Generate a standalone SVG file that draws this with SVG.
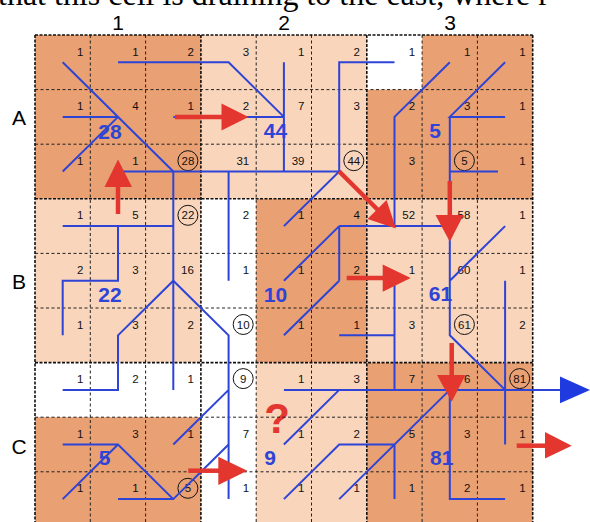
<svg xmlns="http://www.w3.org/2000/svg" width="590" height="522" viewBox="0 0 590 522">
<style>
.dk{fill:#E9A072}
.lt{fill:#F9D5BC}
.wh{fill:#FFFFFF}
.cl{stroke:#222;stroke-width:1;stroke-dasharray:3 2.5;fill:none}
.bl{stroke:#111;stroke-width:1.6;stroke-dasharray:3 1.5;fill:none}
.n{font-family:"Liberation Sans",Arial,sans-serif;font-size:11.5px;fill:#111;text-anchor:end}
.nc{font-family:"Liberation Sans",Arial,sans-serif;font-size:11.5px;fill:#111;text-anchor:middle}
.ci{fill:none;stroke:#111;stroke-width:1}
.s{font-family:"Liberation Sans",Arial,sans-serif;font-size:21px;font-weight:bold;fill:#2E44D6;text-anchor:middle}
.lab{font-family:"Liberation Sans",Arial,sans-serif;font-size:21px;fill:#000;text-anchor:middle}
.b{stroke:#2E44D6;stroke-width:2;fill:none;stroke-linejoin:miter}
.r{stroke:#E2362F;stroke-width:4.5;fill:none}
.rh{fill:#E2362F}
.bh{fill:#1F3BE0}
</style>
<rect width="590" height="522" fill="#FFFFFF"/>
<text x="-2" y="4.5" font-family="Liberation Serif,serif" font-size="32" fill="#000">that this cell is draining to the east, where r</text>
<g id="headers">
<text class="lab" x="118" y="30">1</text>
<text class="lab" x="284" y="30">2</text>
<text class="lab" x="450" y="30">3</text>
<text class="lab" x="19" y="125">A</text>
<text class="lab" x="19" y="289">B</text>
<text class="lab" x="19" y="454">C</text>
</g>
<g id="block-A1">
<rect class="dk" x="35" y="35" width="165.9" height="163.8"/>
<text class="n" x="83.3" y="55.5">1</text><text class="n" x="138.6" y="55.5">1</text><text class="n" x="193.9" y="55.5">2</text>
<text class="n" x="83.3" y="110.1">1</text><text class="n" x="138.6" y="110.1">4</text><text class="n" x="193.9" y="110.1">1</text>
<text class="n" x="83.3" y="164.7">1</text><text class="n" x="138.6" y="164.7">1</text>
<circle class="ci" cx="187.9" cy="160.7" r="10"/><text class="nc" x="187.9" y="164.7">28</text>
<text class="s" x="110" y="138.5">28</text>
</g>
<g id="block-A2">
<rect class="lt" x="200.9" y="35" width="165.9" height="163.8"/>
<text class="n" x="249.2" y="55.5">3</text><text class="n" x="304.5" y="55.5">1</text><text class="n" x="359.8" y="55.5">2</text>
<text class="n" x="249.2" y="110.1">2</text><text class="n" x="304.5" y="110.1">7</text><text class="n" x="359.8" y="110.1">3</text>
<text class="n" x="249.2" y="164.7">31</text><text class="n" x="304.5" y="164.7">39</text>
<circle class="ci" cx="353.8" cy="160.7" r="10"/><text class="nc" x="353.8" y="164.7">44</text>
<text class="s" x="275.5" y="138">44</text>
</g>
<g id="block-A3">
<rect class="dk" x="366.8" y="35" width="165.9" height="163.8"/>
<rect class="wh" x="366.8" y="35" width="55.3" height="54.6"/>
<text class="n" x="415.1" y="55.5">1</text><text class="n" x="470.4" y="55.5">1</text><text class="n" x="525.7" y="55.5">1</text>
<text class="n" x="415.1" y="110.1">2</text><text class="n" x="470.4" y="110.1">3</text><text class="n" x="525.7" y="110.1">1</text>
<text class="n" x="415.1" y="164.7">3</text>
<circle class="ci" cx="464.4" cy="160.7" r="10"/><text class="nc" x="464.4" y="164.7">5</text>
<text class="n" x="525.7" y="164.7">1</text>
<text class="s" x="435" y="137.5">5</text>
</g>
<g id="block-B1">
<rect class="lt" x="35" y="198.8" width="165.9" height="163.8"/>
<text class="n" x="83.3" y="219.3">1</text><text class="n" x="138.6" y="219.3">5</text>
<circle class="ci" cx="187.9" cy="215.3" r="10"/><text class="nc" x="187.9" y="219.3">22</text>
<text class="n" x="83.3" y="273.9">2</text><text class="n" x="138.6" y="273.9">3</text><text class="n" x="193.9" y="273.9">16</text>
<text class="n" x="83.3" y="328.5">1</text><text class="n" x="138.6" y="328.5">3</text><text class="n" x="193.9" y="328.5">2</text>
<text class="s" x="110" y="302">22</text>
</g>
<g id="block-B2">
<rect class="wh" x="200.9" y="198.8" width="55.3" height="163.8"/>
<rect class="dk" x="256.2" y="198.8" width="110.6" height="163.8"/>
<text class="n" x="249.2" y="219.3">2</text><text class="n" x="304.5" y="219.3">1</text><text class="n" x="359.8" y="219.3">4</text>
<text class="n" x="249.2" y="273.9">1</text><text class="n" x="304.5" y="273.9">1</text><text class="n" x="359.8" y="273.9">2</text>
<circle class="ci" cx="243.2" cy="324.5" r="10"/><text class="nc" x="243.2" y="328.5">10</text>
<text class="n" x="304.5" y="328.5">1</text><text class="n" x="359.8" y="328.5">1</text>
<text class="s" x="275.5" y="301.5">10</text>
</g>
<g id="block-B3">
<rect class="lt" x="366.8" y="198.8" width="165.9" height="163.8"/>
<text class="n" x="415.1" y="219.3">52</text><text class="n" x="470.4" y="219.3">58</text><text class="n" x="525.7" y="219.3">1</text>
<text class="n" x="415.1" y="273.9">1</text><text class="n" x="470.4" y="273.9">60</text><text class="n" x="525.7" y="273.9">1</text>
<text class="n" x="415.1" y="328.5">3</text>
<circle class="ci" cx="464.4" cy="324.5" r="10"/><text class="nc" x="464.4" y="328.5">61</text>
<text class="n" x="525.7" y="328.5">2</text>
<text class="s" x="440.5" y="301">61</text>
</g>
<g id="block-C1">
<rect class="wh" x="35" y="362.6" width="165.9" height="54.6"/>
<rect class="dk" x="35" y="417.2" width="165.9" height="109.2"/>
<text class="n" x="83.3" y="383.1">1</text><text class="n" x="138.6" y="383.1">2</text><text class="n" x="193.9" y="383.1">1</text>
<text class="n" x="83.3" y="437.7">1</text><text class="n" x="138.6" y="437.7">3</text><text class="n" x="193.9" y="437.7">1</text>
<text class="n" x="83.3" y="492.3">1</text><text class="n" x="138.6" y="492.3">1</text>
<circle class="ci" cx="187.9" cy="488.3" r="10"/><text class="nc" x="187.9" y="492.3">5</text>
<text class="s" x="104.7" y="465">5</text>
</g>
<g id="block-C2">
<rect class="wh" x="200.9" y="362.6" width="55.3" height="163.8"/>
<rect class="lt" x="256.2" y="362.6" width="110.6" height="163.8"/>
<circle class="ci" cx="243.2" cy="378.6" r="10"/><text class="nc" x="243.2" y="383.1">9</text>
<text class="n" x="304.5" y="383.1">1</text><text class="n" x="359.8" y="383.1">3</text>
<text class="n" x="249.2" y="437.7">7</text><text class="n" x="304.5" y="437.7">1</text><text class="n" x="359.8" y="437.7">2</text>
<text class="n" x="249.2" y="492.3">1</text><text class="n" x="304.5" y="492.3">1</text><text class="n" x="359.8" y="492.3">1</text>
<text class="s" x="270" y="464.5">9</text>
<text x="277" y="433" font-family="Liberation Sans,Arial,sans-serif" font-size="42" font-weight="bold" fill="#E2362F" text-anchor="middle">?</text>
</g>
<g id="block-C3">
<rect class="dk" x="366.8" y="362.6" width="165.9" height="163.8"/>
<text class="n" x="415.1" y="383.1">7</text><text class="n" x="470.4" y="383.1">6</text>
<circle class="ci" cx="519.7" cy="378.6" r="10"/><text class="nc" x="519.7" y="383.1">81</text>
<text class="n" x="415.1" y="437.7">5</text><text class="n" x="470.4" y="437.7">3</text><text class="n" x="525.7" y="437.7">1</text>
<text class="n" x="415.1" y="492.3">1</text><text class="n" x="470.4" y="492.3">2</text><text class="n" x="525.7" y="492.3">1</text>
<text class="s" x="441.7" y="465">81</text>
</g>
<g id="grid">
<path class="cl" d="M90.3 35V526M145.6 35V526M256.2 35V526M311.5 35V526M422.1 35V526M477.4 35V526M35 89.6H532.7M35 144.2H532.7M35 253.4H532.7M35 308H532.7M35 417.2H532.7M35 471.8H532.7"/>
<path class="bl" d="M35 35V526M200.9 35V526M366.8 35V526M532.7 35V526M35 35H532.7M35 198.8H532.7M35 362.6H532.7"/>
</g>
<g id="connectors">
<path class="b" d="M62.7 62.3L173.3 171.5M62.7 116.9H118M62.7 171.5L118 116.9"/>
<path class="b" d="M118 62.3H228.6L283.9 116.9M173.3 116.9H283.9M283.9 62.3V171.5"/>
<path class="b" d="M394.5 62.3H339.2V171.5M118 171.5H339.2L283.9 226.1M173.3 171.5V389.9M228.6 171.5V280.7"/>
<path class="b" d="M449.8 62.3L394.5 116.9V226.1M505.1 62.3L449.8 116.9H505.1M449.8 116.9V181M449.8 171.5H498"/>
<path class="b" d="M339.2 226.1H449.8M339.2 226.1V280.7M339.2 226.1L283.9 280.7M339.2 280.7L283.9 335.3"/>
<path class="b" d="M449.8 226.1V335.3L505.1 389.9M449.8 280.7L505.1 226.1M505.1 280.7V444.5M394.5 280.7V389.9M339.2 335.3H394.5"/>
<path class="b" d="M62.7 226.1H173.3M118 226.1V280.7H62.7V335.3"/>
<path class="b" d="M62.7 389.9H118V335.3L173.3 280.7L228.6 335.3V499.1M228.6 389.9L173.3 444.5"/>
<path class="b" d="M228.6 444.5L173.3 499.1H118M173.3 499.1L118 444.5H62.7M118 444.5L62.7 499.1"/>
<path class="b" d="M283.9 389.9H562M339.2 389.9L283.9 444.5M283.9 499.1L339.2 444.5H394.5V499.1M339.2 499.1L449.8 389.9M449.8 389.9V499.1H505.1"/>
<polygon class="bh" points="560,376.5 590,389.9 560,403.3"/>
<path class="r" d="M175 116.9H223"/>
<polygon class="rh" points="221.5,103.5 248.5,116.9 221.5,130.5"/>
<path class="r" d="M118 214V185"/>
<polygon class="rh" points="104.5,187 118,159.5 132,187"/>
<path class="r" d="M339.2 171.5L378 210"/>
<polygon class="rh" points="367.5,219 386.5,200 396,228.5"/>
<path class="r" d="M449.8 181V217"/>
<polygon class="rh" points="435.5,215 463.5,215 449.8,241.7"/>
<path class="r" d="M346.7 278H384"/>
<polygon class="rh" points="382.7,264.5 410.7,278 382.7,291.7"/>
<path class="r" d="M451.7 343V377"/>
<polygon class="rh" points="437,375 465.5,375 451.7,401.7"/>
<path class="r" d="M516.7 445.7H546"/>
<polygon class="rh" points="545,432 571.7,445.7 545,458.5"/>
<path class="r" d="M188.3 470.7H220"/>
<polygon class="rh" points="218.3,456.7 247.3,470.7 218.3,485"/>
</g>
</svg>
